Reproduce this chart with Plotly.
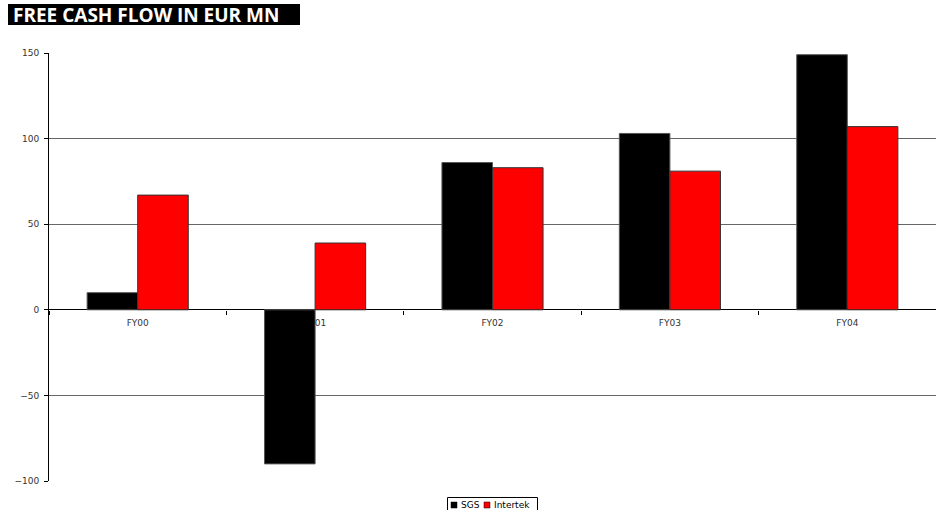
import plotly.graph_objects as go

categories = ["FY00", "FY01", "FY02", "FY03", "FY04"]
sgs = [10, -90, 86, 103, 149]
intertek = [67, 39, 83, 81, 107]
y_ticks = [-100, -50, 0, 50, 100, 150]
series_names = ["SGS", "Intertek"]
series_colors = ["#000000", "#ff0000"]

W, H = 936, 510
L, R, T, B = 49, 0, 53, 29
pw, ph = W - L - R, H - T - B

def px(x):
    return (x - L) / pw

def py(y):
    return (H - B - y) / ph

fig = go.Figure()
fig.add_bar(name=series_names[0], x=categories, y=sgs,
            marker=dict(color=series_colors[0], line=dict(color="#555555", width=1)))
fig.add_bar(name=series_names[1], x=categories, y=intertek,
            marker=dict(color=series_colors[1], line=dict(color="#333333", width=1)))

shapes = [
    dict(type="rect", xref="paper", yref="paper", x0=px(8), x1=px(300), y0=py(25), y1=py(4),
         fillcolor="#000000", line=dict(width=0)),
    # legend box
    dict(type="rect", xref="paper", yref="paper", x0=px(447.5), x1=px(537.5), y0=py(512), y1=py(497.5),
         fillcolor="white", line=dict(color="#000000", width=1)),
    dict(type="rect", xref="paper", yref="paper", x0=px(451), x1=px(457), y0=py(508), y1=py(502),
         fillcolor=series_colors[0], line=dict(color="#000", width=0.5)),
    dict(type="rect", xref="paper", yref="paper", x0=px(484), x1=px(490), y0=py(508), y1=py(502),
         fillcolor=series_colors[1], line=dict(color="#000", width=0.5)),
]

annotations = [
    dict(text="<b>FREE CASH FLOW IN EUR MN</b>", xref="paper", yref="paper",
         x=px(11), y=py(15), xanchor="left", yanchor="middle", showarrow=False,
         font=dict(family="Open Sans", size=19, color="white")),
    dict(text=series_names[0], xref="paper", yref="paper", x=px(459), y=py(505),
         xanchor="left", yanchor="middle", showarrow=False,
         font=dict(family="DejaVu Sans", size=9, color="#000")),
    dict(text=series_names[1], xref="paper", yref="paper", x=px(492), y=py(505),
         xanchor="left", yanchor="middle", showarrow=False,
         font=dict(family="DejaVu Sans", size=9, color="#000")),
]

fig.update_layout(
    width=W, height=H,
    margin=dict(l=L, r=R, t=T, b=B, pad=0, autoexpand=False),
    paper_bgcolor="white", plot_bgcolor="white",
    barmode="group", bargap=0.43, bargroupgap=0,
    font=dict(family="DejaVu Sans", size=9, color="#222222"),
    showlegend=False,
    xaxis=dict(type="category", anchor="free", position=py(310), tickson="boundaries",
               ticks="outside", ticklen=4, tickcolor="#000", showline=False, showgrid=False,
               ticklabelstandoff=6,
               layer="below traces", tickfont=dict(size=9, color="#333")),
    yaxis=dict(range=[-100, 150], tickvals=y_ticks, showgrid=True, gridcolor="#666666", gridwidth=1,
               zeroline=True, zerolinecolor="#000000", zerolinewidth=1,
               showline=True, linecolor="#000000", linewidth=1, ticks="outside", ticklen=4,
               tickcolor="#000", tickfont=dict(size=9, color="#333"), layer="below traces",
               ticklabelstandoff=3),
    shapes=shapes,
    annotations=annotations,
)

fig.write_html("out.html")
